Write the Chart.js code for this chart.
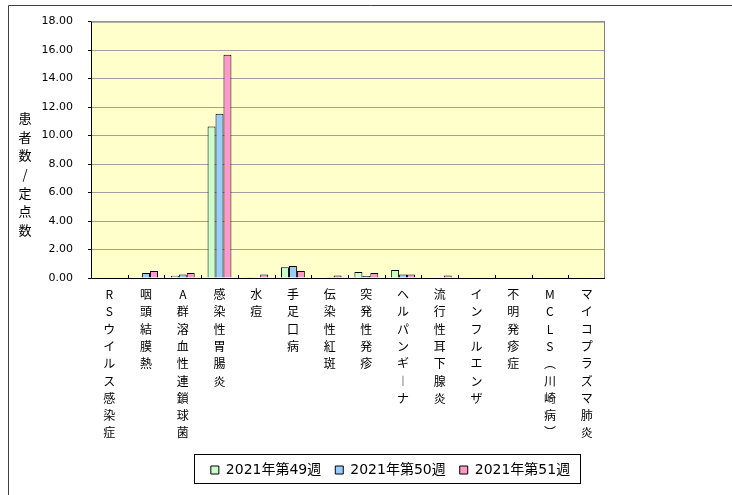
<!DOCTYPE html>
<html>
<head>
<meta charset="utf-8">
<script src="https://cdn.jsdelivr.net/npm/chart.js@4/dist/chart.umd.min.js"></script>
<style>
  body { margin: 0; background: #fff; }
</style>
</head>
<body>
<canvas id="myChart" width="732" height="495"></canvas>
<script>
// categories and weekly values (patients per sentinel site)
const diseases = ['RSウイルス感染症', '咽頭結膜熱', 'A群溶血性連鎖球菌', '感染性胃腸炎', '水痘', '手足口病', '伝染性紅斑',
    '突発性発疹', 'ヘルパンギーナ', '流行性耳下腺炎', 'インフルエンザ', '不明発疹症', 'MCLS（川崎病）', 'マイコプラズマ肺炎']
const weekLabels = ['2021年第49週', '2021年第50週', '2021年第51週']
const week49 = [0, 0, 0.16, 10.64, 0.05, 0.75, 0, 0.42, 0.56, 0.04, 0, 0.04, 0, 0]
const week50 = [0, 0.35, 0.25, 11.53, 0, 0.84, 0.05, 0.14, 0.25, 0, 0, 0, 0, 0]
const week51 = [0, 0.49, 0.35, 15.67, 0.25, 0.49, 0.18, 0.35, 0.25, 0.17, 0, 0, 0, 0]
const yTicks = [0, 2, 4, 6, 8, 10, 12, 14, 16, 18]
const yTitle = '患者数/定点数'

const barColors = ['#ccffcc', '#99ccff', '#ff99cc']

// vertical (tategaki) labels: one character per line
const verticalForms = { 'ー': '︱', '（': '︵', '）': '︶' }
const stackChars = s => Array.from(s).map(c => verticalForms[c] || c)

const decorations = {
    id: 'decorations',
    afterLayout(chart) {
        // legend sits right of centre in the original
        const lg = chart.legend
        lg.left += 88
        lg.right += 88
    },
    beforeDraw(chart) {
        const ctx = chart.ctx
        const a = chart.chartArea
        ctx.save()
        ctx.fillStyle = '#ffffcc'
        ctx.fillRect(a.left, a.top, a.right - a.left, a.bottom - a.top)
        // outer frame (only top/left visible)
        ctx.strokeStyle = '#404040'
        ctx.lineWidth = 1
        ctx.beginPath()
        ctx.moveTo(8.5, 495)
        ctx.lineTo(8.5, 5.5)
        ctx.lineTo(732, 5.5)
        ctx.stroke()
        ctx.restore()
    },
    afterDraw(chart) {
        const ctx = chart.ctx
        const a = chart.chartArea
        const lg = chart.legend
        ctx.save()
        // plot frame
        ctx.strokeStyle = '#808080'
        ctx.lineWidth = 1
        ctx.strokeRect(a.left + 0.5, a.top + 0.5, a.right - a.left - 1, a.bottom - a.top)
        ctx.strokeStyle = '#000'
        ctx.beginPath()
        ctx.moveTo(a.left + 0.5, a.top)
        ctx.lineTo(a.left + 0.5, a.bottom + 0.5)
        ctx.lineTo(a.right, a.bottom + 0.5)
        ctx.stroke()
        // small inner ticks between categories
        const step = (a.right - a.left) / diseases.length
        ctx.beginPath()
        for (let i = 1; i < diseases.length; i++) {
            const px = Math.round(a.left + step * i) + 0.5
            ctx.moveTo(px, a.bottom)
            ctx.lineTo(px, a.bottom - 3)
        }
        ctx.stroke()
        // y axis title, stacked characters
        ctx.fillStyle = '#000'
        ctx.font = '13px "Noto Sans CJK JP"'
        ctx.textAlign = 'center'
        ctx.textBaseline = 'middle'
        Array.from(yTitle).forEach((c, i) => {
            ctx.fillText(c, 25, 118 + i * 18.7)
        })
        // legend frame
        const cx = (lg.left + lg.right) / 2
        ctx.strokeStyle = '#000'
        ctx.strokeRect(Math.round(cx - 197) + 0.5, Math.round(lg.top) + 5.5, 386, 29)
        ctx.restore()
    }
}

const ctx = document.getElementById('myChart').getContext('2d')

new Chart(ctx, {
    type: 'bar',
    data: {
        labels: diseases.map(stackChars),
        datasets: [
            { label: weekLabels[0], data: week49, backgroundColor: barColors[0] },
            { label: weekLabels[1], data: week50, backgroundColor: barColors[1] },
            { label: weekLabels[2], data: week51, backgroundColor: barColors[2] }
        ].map(d => Object.assign(d, {
            borderColor: '#000',
            borderWidth: 1,
            borderSkipped: 'bottom',
            categoryPercentage: 0.65,
            barPercentage: 1
        }))
    },
    options: {
        responsive: false,
        animation: false,
        devicePixelRatio: 1,
        layout: { padding: { top: 20, right: 127, left: 0, bottom: 8 } },
        plugins: {
            tooltip: { enabled: false },
            legend: {
                position: 'bottom',
                labels: {
                    boxWidth: 8,
                    boxHeight: 8,
                    padding: 14,
                    color: '#000',
                    font: { family: '"DejaVu Sans", "Noto Sans CJK JP"', size: 14 }
                }
            }
        },
        scales: {
            x: {
                grid: { display: false },
                border: { display: false },
                ticks: {
                    maxRotation: 0,
                    minRotation: 0,
                    autoSkip: false,
                    padding: 0,
                    color: '#000',
                    font: { family: '"Noto Sans CJK JP"', size: 12, lineHeight: 1.44 }
                },
                afterFit: s => { s.height = 171 }
            },
            y: {
                min: 0,
                max: 18,
                afterBuildTicks: s => { s.ticks = yTicks.map(v => ({ value: v })) },
                grid: { color: '#a0a0a0', tickLength: 3, tickColor: '#000' },
                border: { display: false },
                ticks: {
                    padding: 15,
                    color: '#000',
                    font: { family: '"DejaVu Sans"', size: 11 },
                    callback: v => v.toFixed(2)
                },
                afterFit: s => { s.width = 91 }
            }
        }
    },
    plugins: [decorations]
});
</script>
</body>
</html>
